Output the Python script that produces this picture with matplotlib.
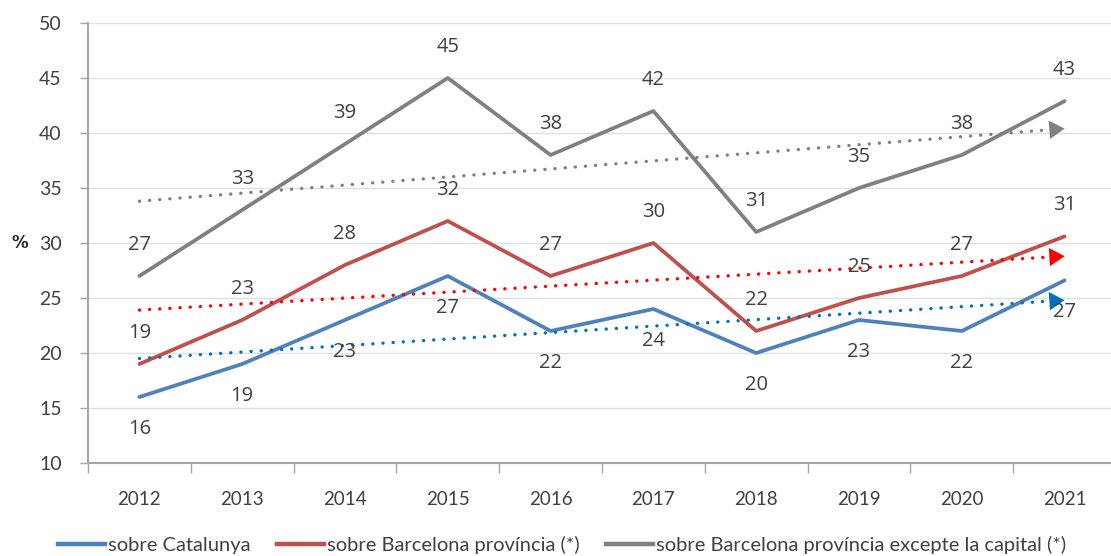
import matplotlib
matplotlib.use("Agg")
import matplotlib.pyplot as plt
from matplotlib.lines import Line2D
import numpy as np

years = ["2012", "2013", "2014", "2015", "2016", "2017", "2018", "2019", "2020", "2021"]
catalunya = [16, 19, 23, 27, 22, 24, 20, 23, 22, 26.6]
barcelona = [19, 23, 28, 32, 27, 30, 22, 25, 27, 30.6]
bcn_no_capital = [27, 33, 39, 45, 38, 42, 31, 35, 38, 42.9]
labels_cat = ["16", "19", "23", "27", "22", "24", "20", "23", "22", "27"]
labels_bcn = ["19", "23", "28", "32", "27", "30", "22", "25", "27", "31"]
labels_nocap = ["27", "33", "39", "45", "38", "42", "31", "35", "38", "43"]
# trend line end values (2012, 2021)
trend_cat = [19.5, 24.8]
trend_bcn = [23.9, 28.8]
trend_nocap = [33.8, 40.4]
legend_names = ["sobre Catalunya", "sobre Barcelona província (*)",
                "sobre Barcelona província excepte la capital (*)"]

W, H = 1111, 556
fig = plt.figure(figsize=(W / 100, H / 100), dpi=100)
ax = fig.add_axes([88 / W, 1 - 463 / H, (1116 - 88) / W, 440 / H])

x = np.arange(len(years))
c_blue, c_red, c_gray = "#4F81BD", "#C0504D", "#808080"
t_blue, t_red, t_gray = "#0070C0", "#FF0000", "#808080"
txt = "#404040"
lab_font = ["Open Sans", "DejaVu Sans"]
tick_font = ["Lato", "DejaVu Sans"]

series = [(catalunya, labels_cat, c_blue, -32),
          (barcelona, labels_bcn, c_red, 31),
          (bcn_no_capital, labels_nocap, c_gray, 31)]
handles = []
for vals, labs, col, off in series:
    ax.plot(x, vals, color=col, lw=2.7, solid_capstyle="round", zorder=3)
    handles.append(Line2D([], [], color=col, lw=3.2))
    for xi, v, lab in zip(x, vals, labs):
        ax.annotate(lab, (xi, v), xytext=(0, off), textcoords="offset pixels",
                    ha="center", va="center", fontsize=14.5, color=txt,
                    family=lab_font, zorder=5)

for tv, col in [(trend_cat, t_blue), (trend_bcn, t_red), (trend_nocap, t_gray)]:
    tx = [x[0], x[-1]]
    ax.plot([x[0], x[-1] - 0.12], [tv[0], tv[0] + (tv[1] - tv[0]) * (x[-1] - 0.12) / x[-1]],
            color=col, lw=2.4, linestyle=(0, (0.05, 3.0)), dash_capstyle="round", zorder=4)
    ax.annotate("", xy=(tx[1], tv[1]), xytext=(tx[1] - 0.15, tv[1] - (tv[1] - tv[0]) * 0.15 / 9),
                arrowprops=dict(arrowstyle="-|>,head_length=0.5,head_width=0.3", color=col, lw=0,
                                mutation_scale=22, shrinkA=0, shrinkB=0), zorder=4)

ax.set_xlim(-0.5, 9.5)
ax.set_ylim(10, 50)
ax.set_yticks(range(10, 51, 5))
ax.set_xticks(x)
ax.set_xticklabels(years)
ax.set_xticks(np.arange(-0.5, 10, 1), minor=True)
ax.tick_params(axis="x", which="major", length=0, pad=20, labelsize=13.5, labelcolor=txt)
ax.tick_params(axis="x", which="minor", length=7, color="#A6A6A6", width=1)
ax.tick_params(axis="y", length=6, color="#A6A6A6", width=1, pad=13, labelsize=14, labelcolor=txt)
for lab in ax.get_xticklabels() + ax.get_yticklabels():
    lab.set_family(tick_font)
ax.grid(axis="y", color="#E0E0E0", lw=1)
ax.set_axisbelow(True)
for s in ["top", "right"]:
    ax.spines[s].set_visible(False)
for s in ["left", "bottom"]:
    ax.spines[s].set_color("#A6A6A6")
    ax.spines[s].set_linewidth(1.5)

fig.text(20 / W, 1 - 243 / H, "%", ha="center", va="center", fontsize=12,
         fontweight="bold", color="#262626")

leg = fig.legend(handles, legend_names, loc="center", bbox_to_anchor=(562 / W, 1 - 545 / H),
                 ncol=3, frameon=False, handlelength=2.35, handletextpad=0.15,
                 columnspacing=1.3, borderpad=0, borderaxespad=0,
                 prop={"family": tick_font, "size": 14.5})
for t in leg.get_texts():
    t.set_color(txt)

fig.savefig("out.png", dpi=100)
